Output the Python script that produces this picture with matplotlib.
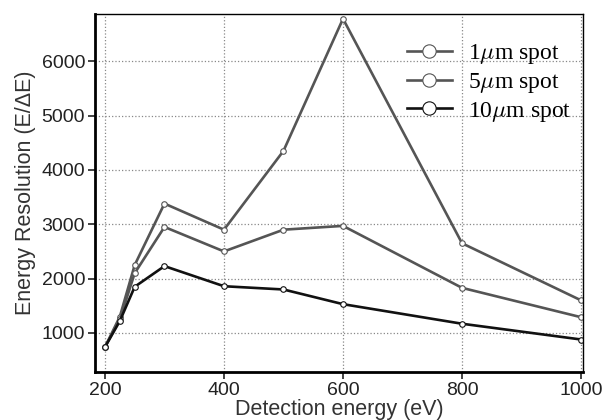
import matplotlib
matplotlib.use("Agg")
import matplotlib.pyplot as plt

energy = [200, 225, 250, 300, 400, 500, 600, 800, 1000]
res_1um = [740, 1300, 2250, 3380, 2900, 4350, 6780, 2650, 1600]
res_5um = [740, 1250, 2100, 2950, 2500, 2900, 2970, 1830, 1290]
res_10um = [740, 1220, 1850, 2230, 1860, 1800, 1530, 1170, 880]

plt.rcParams['font.family'] = ['Liberation Sans', 'DejaVu Sans']
plt.rcParams['mathtext.fontset'] = 'cm'

fig = plt.figure(figsize=(6.04, 4.2), dpi=100)
ax = fig.add_axes([0.157, 0.114, 0.808, 0.853])

ax.grid(True, linestyle=':', color='#888888', linewidth=0.9)
ax.set_axisbelow(True)

mk = dict(marker='o', markersize=4, markerfacecolor='white', markeredgewidth=0.8)
ax.plot(energy, res_1um, color='#555555', lw=1.9, markeredgecolor='#555555', label=r'1$\mu$m spot', **mk)
ax.plot(energy, res_5um, color='#555555', lw=1.9, markeredgecolor='#555555', label=r'5$\mu$m spot', **mk)
ax.plot(energy, res_10um, color='#111111', lw=1.9, markeredgecolor='#111111', label=r'10$\mu$m spot', **mk)

ax.set_xlim(183, 1003)
ax.set_ylim(280, 6870)
ax.set_xticks([200, 400, 600, 800, 1000])
ax.set_yticks([1000, 2000, 3000, 4000, 5000, 6000])
ax.tick_params(labelsize=14, direction='out', length=5, width=1.2, pad=2, colors='#222222')
ax.spines['left'].set_linewidth(2)
ax.spines['bottom'].set_linewidth(2)
ax.spines['top'].set_linewidth(1)
ax.spines['right'].set_linewidth(1)

ax.set_xlabel('Detection energy (eV)', fontsize=15.5, color='#333333', labelpad=0)
ax.set_ylabel('Energy Resolution (E/ΔE)', fontsize=15.5, color='#333333', labelpad=4)

leg = ax.legend(loc='upper right', bbox_to_anchor=(1.02, 0.98), frameon=False,
                prop={'family': 'Liberation Serif', 'size': 17}, handlelength=1.9,
                markerscale=2.4, labelspacing=0.2, handletextpad=0.7)

fig.savefig('out.png', dpi=100)
